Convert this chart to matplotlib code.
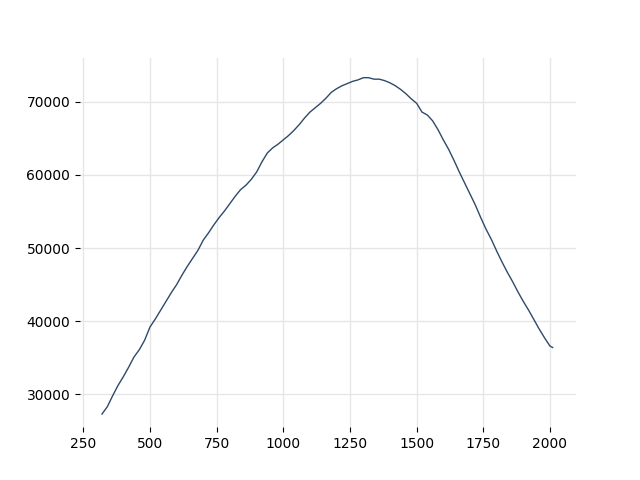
import matplotlib
matplotlib.use("Agg")
import matplotlib.pyplot as plt

x_values = [320, 340, 360, 380, 400, 420, 440, 460, 480, 500,
            520, 540, 560, 580, 600, 620, 640, 660, 680, 700,
            720, 740, 760, 780, 800, 820, 840, 860, 880, 900,
            920, 940, 960, 980, 1000, 1020, 1040, 1060, 1080, 1100,
            1120, 1140, 1160, 1180, 1200, 1220, 1240, 1260, 1280, 1300,
            1320, 1340, 1360, 1380, 1400, 1420, 1440, 1460, 1480, 1500,
            1520, 1540, 1560, 1580, 1600, 1620, 1640, 1660, 1680, 1700,
            1720, 1740, 1760, 1780, 1800, 1820, 1840, 1860, 1880, 1900,
            1920, 1940, 1960, 1980, 2000, 2010]
y_values = [27300, 28300, 29800, 31200, 32400, 33700, 35100, 36100, 37400, 39200,
            40300, 41500, 42700, 43900, 45000, 46300, 47500, 48600, 49700, 51100,
            52100, 53200, 54200, 55100, 56100, 57100, 58000, 58600, 59400, 60400,
            61800, 63000, 63700, 64200, 64800, 65400, 66100, 66900, 67800, 68600,
            69200, 69800, 70500, 71300, 71800, 72200, 72500, 72800, 73000, 73300,
            73300, 73100, 73100, 72900, 72600, 72200, 71700, 71100, 70400, 69800,
            68600, 68200, 67400, 66200, 64800, 63500, 62000, 60400, 58900, 57400,
            55900, 54200, 52600, 51200, 49600, 48100, 46700, 45400, 44000, 42700,
            41500, 40200, 38900, 37700, 36600, 36400]

fig, ax = plt.subplots(figsize=(6.4, 4.8), dpi=100)
ax.plot(x_values, y_values, color="#2e4a6b", linewidth=1.0)

ax.set_xlim(237.6, 2097.6)
ax.set_ylim(25500, 76050)
ax.set_xticks([250, 500, 750, 1000, 1250, 1500, 1750, 2000])
ax.set_yticks([30000, 40000, 50000, 60000, 70000])

ax.grid(True, color="#e6e6e6", linewidth=1.0)
ax.set_axisbelow(True)
for s in ax.spines.values():
    s.set_visible(False)

fig.savefig("out.png", dpi=100)
